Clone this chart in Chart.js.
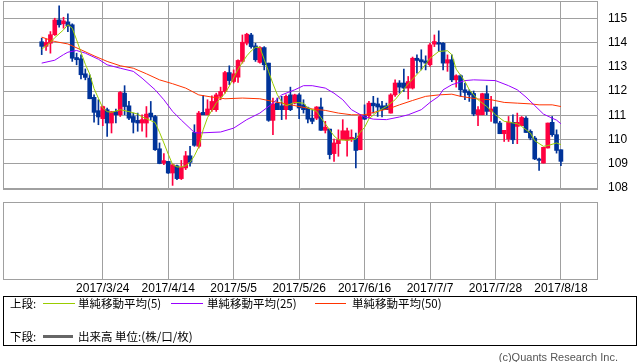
<!DOCTYPE html>
<html lang="ja">
<head>
<meta charset="utf-8">
<title>USD/JPY 日足</title>
<script src="https://cdn.jsdelivr.net/npm/chart.js@4"></script>
<style>
  body { margin:0; background:#fff; width:638px; height:362px; position:relative; overflow:hidden; font-family:"Noto Sans CJK JP", sans-serif; }
  canvas { position:absolute; left:0; }
  #upper { top:0; }
  #lower { top:198px; }
  #legendBox { position:absolute; left:3px; top:296px; width:632px; height:48px; border:1px solid #000; }
  .txt { position:absolute; font-size:11.5px; line-height:14px; height:14px; color:#000; white-space:nowrap; }
  .swatch { position:absolute; display:block; height:1px; }
  #copy { position:absolute; right:20px; top:350px; font-size:11px; line-height:14px; color:#555; font-family:"Liberation Sans", sans-serif; }
</style>
</head>
<body>
<canvas id="upper" width="638" height="200"></canvas>
<canvas id="lower" width="638" height="100"></canvas>

<div id="legendBox"></div>
<span class="txt" style="left:10px;top:296px">上段:</span>
<div class="swatch" style="left:43px;top:303px;width:32px;background:#99cc00"></div>
<span class="txt" style="left:78px;top:296px">単純移動平均(5)</span>
<div class="swatch" style="left:171px;top:303px;width:32px;background:#9900ff"></div>
<span class="txt" style="left:207px;top:296px">単純移動平均(25)</span>
<div class="swatch" style="left:315px;top:303px;width:31px;background:#ff3300"></div>
<span class="txt" style="left:352px;top:296px">単純移動平均(50)</span>
<span class="txt" style="left:10px;top:329px">下段:</span>
<div class="swatch" style="left:43px;top:335px;width:30px;height:3px;background:#666"></div>
<span class="txt" style="left:78px;top:329px">出来高 単位:(株/口/枚)</span>
<div id="copy">(c)Quants Research Inc.</div>

<script>
// daily candles, index 0 = 2017/3/6 ... index 119 = 2017/8/18 (weekdays)
const open = [
  114.03,113.84,113.97,114.32,114.93,114.77,114.85,114.73,113.38,113.33,
  112.71,112.53,111.74,111.19,110.86,111.23,110.68,111.15,111.02,111.91,
  111.39,110.95,110.79,110.68,110.68,111.09,110.95,109.62,109.03,109.10,
  108.62,108.92,108.39,108.83,109.33,110.29,109.72,111.12,111.02,111.23,
  111.23,111.78,111.98,112.76,112.39,112.57,113.22,113.97,114.31,113.86,
  113.18,113.79,113.15,110.79,111.50,111.39,111.23,111.84,111.50,111.84,
  111.43,111.30,110.88,110.88,111.34,110.38,110.43,109.42,109.83,109.99,
  109.97,109.99,110.06,109.58,110.98,110.98,111.50,111.47,111.39,111.39,
  111.09,111.84,112.33,112.33,112.12,112.12,113.35,113.29,113.24,113.08,
  113.93,114.00,113.97,113.15,113.29,112.46,112.63,112.05,111.98,111.90,
  111.02,111.02,111.89,111.16,111.34,110.68,110.24,110.02,110.71,110.54,
  110.57,110.88,110.34,110.06,109.20,109.03,109.65,110.71,110.20,109.58
];
const high = [
  114.18,114.14,114.45,115.00,115.51,115.04,115.18,114.77,113.56,113.49,
  112.91,112.67,111.84,111.64,111.38,111.30,111.15,111.26,111.98,112.22,
  111.57,111.09,111.09,111.02,111.36,111.57,111.00,109.86,109.42,109.10,
  108.99,108.95,109.14,109.51,109.72,110.61,111.16,111.82,111.64,111.80,
  111.91,112.16,112.81,113.04,112.87,113.29,114.31,114.38,114.38,113.97,
  113.83,113.83,113.15,111.71,111.71,111.78,111.84,112.16,111.87,111.89,
  111.64,111.34,111.23,111.36,111.71,110.75,110.43,110.02,110.40,110.82,
  110.47,110.40,110.27,111.02,111.43,111.57,111.78,111.71,111.57,111.50,
  111.89,112.46,112.43,112.90,112.60,113.40,113.49,113.70,113.45,113.97,
  114.31,114.48,114.00,113.49,113.49,112.67,112.67,112.33,112.05,112.00,
  111.36,111.91,112.22,111.78,111.34,110.75,110.38,110.95,111.02,111.09,
  110.95,110.95,110.40,110.13,109.24,109.68,110.68,110.95,110.40,109.58
];
const low = [
  113.50,113.67,113.56,114.29,114.63,114.59,114.45,113.22,113.08,112.50,
  112.46,111.68,110.72,110.61,110.57,110.13,110.27,110.68,110.95,111.02,
  110.82,110.27,110.34,110.34,110.10,110.82,109.55,109.00,108.96,108.60,
  108.11,108.35,108.35,108.76,108.90,109.72,109.65,111.02,111.02,111.16,
  111.16,111.64,111.91,112.26,112.33,112.35,113.15,113.90,113.77,113.22,
  113.15,112.87,110.75,110.20,111.23,110.82,110.84,111.19,111.47,110.86,
  111.09,110.68,110.65,110.82,110.38,110.27,109.20,109.10,109.31,109.99,
  109.31,109.92,108.83,109.58,110.82,110.88,111.09,110.95,110.93,111.23,
  111.09,111.78,111.91,111.98,111.67,112.08,112.74,112.87,112.87,113.01,
  113.83,113.63,112.87,112.81,112.39,112.16,111.78,111.64,111.57,110.98,
  110.57,111.02,111.02,110.75,110.68,110.24,109.92,109.92,109.83,109.83,
  110.57,110.29,109.99,109.17,108.73,109.03,109.65,110.13,109.44,108.92
];
const close = [
  113.84,114.00,114.32,114.93,114.73,114.89,114.68,113.35,113.29,112.67,
  112.56,111.68,111.12,110.93,111.36,110.68,111.15,111.02,111.94,111.36,
  110.88,110.71,110.68,110.82,111.05,110.93,109.58,109.01,109.13,108.62,
  108.96,108.39,108.85,109.33,109.06,109.76,111.09,111.02,111.26,111.57,
  111.84,111.98,112.76,112.43,112.71,113.26,114.01,114.34,113.83,113.29,
  113.79,113.08,110.79,111.47,111.23,111.23,111.78,111.23,111.84,111.30,
  111.23,110.84,110.75,111.34,110.38,110.51,109.38,109.86,109.99,110.36,
  110.36,110.09,109.55,110.95,110.84,111.50,111.39,111.34,111.23,111.23,
  111.84,112.33,112.16,112.12,112.39,113.35,113.26,113.20,113.15,113.90,
  114.04,113.93,113.15,113.29,112.46,112.63,112.05,111.94,111.84,111.05,
  111.23,111.89,111.16,111.26,110.68,110.24,110.38,110.72,109.99,110.71,
  110.91,110.29,110.06,109.20,109.14,109.68,110.68,110.20,109.55,109.10
];

// moving averages: [day index, value]
const ma5 = [
  [0,113.72],[2,114.0],[3,114.2],[5,114.52],[6,114.73],[7,114.59],[8,114.11],[9,113.6],
  [10,113.1],[11,112.7],[12,112.1],[13,111.7],[14,111.3],[15,111.15],[16,111.12],[18,111.23],
  [20,111.15],[22,111.05],[23,110.93],[24,110.86],[25,110.78],[26,110.7],[27,110.3],[28,109.86],
  [29,109.4],[30,108.97],[31,108.87],[32,108.87],[33,108.92],[34,109.06],[35,109.33],[36,109.7],
  [37,110.4],[38,110.9],[39,111.2],[40,111.5],[42,111.9],[43,112.2],[45,112.9],[47,113.45],
  [48,113.65],[49,113.8],[50,113.8],[51,113.3],[52,112.8],[53,112.3],[54,111.85],[55,111.55],
  [56,111.39],[58,111.53],[60,111.5],[61,111.3],[63,111.16],[64,110.9],[66,110.4],[67,110.15],
  [68,109.99],[70,109.97],[72,110.02],[73,110.3],[74,110.5],[75,110.85],[77,111.16],[79,111.36],
  [81,111.64],[84,112.3],[87,112.87],[89,113.35],[91,113.63],[93,113.66],[94,113.5],[95,112.9],
  [97,112.4],[98,112.05],[100,111.64],[102,111.36],[104,111.02],[106,110.75],[107,110.72],[109,110.65],
  [110,110.54],[112,110.27],[113,109.95],[115,109.72],[116,109.75],[118,109.86],[119,109.79]
];
const ma25 = [
  [0,113.15],[3,113.27],[5,113.5],[6,113.6],[8,113.67],[10,113.56],[13,113.31],[15,113.08],
  [18,112.94],[21,112.81],[23,112.53],[26,112.05],[28,111.64],[30,111.16],[32,110.8],[35,110.29],
  [36,110.27],[41,110.31],[44,110.47],[47,110.82],[50,111.09],[53,111.5],[55,111.84],[58,112.05],
  [60,112.22],[62,112.22],[65,112.12],[67,111.91],[69,111.64],[71,111.23],[74,110.93],[76,110.84],
  [79,110.82],[82,110.93],[84,111.02],[87,111.23],[89,111.53],[91,111.78],[92,112.05],[94,112.26],
  [97,112.43],[99,112.46],[104,112.43],[107,112.22],[109,112.05],[111,111.75],[113,111.4],[115,111.05],
  [117,110.88],[118,110.8],[119,110.65]
];
const ma50 = [
  [0,114.22],[3,114.04],[6,113.94],[9,113.7],[12,113.45],[15,113.22],[18,113.04],[21,112.94],
  [24,112.71],[27,112.46],[30,112.3],[33,112.12],[36,111.84],[39,111.75],[41,111.71],[42,111.68],
  [46,111.71],[50,111.68],[53,111.57],[56,111.47],[59,111.36],[62,111.26],[65,111.2],[68,111.09],
  [71,111.02],[74,111.02],[77,111.16],[80,111.3],[82,111.43],[85,111.61],[88,111.78],[91,111.84],
  [94,111.87],[96,111.78],[100,111.67],[103,111.64],[106,111.53],[109,111.5],[112,111.47],[114,111.43],
  [117,111.43],[119,111.36]
];

const tickIdx = [14, 29, 44, 59, 74, 89, 104, 119];
const tickLabels = ['2017/3/24','2017/4/14','2017/5/5','2017/5/26','2017/6/16','2017/7/7','2017/7/28','2017/8/18'];
const priceTicks = [108, 109, 110, 111, 112, 113, 114, 115];

const UP = '#ff0040', DOWN = '#003399', GRID = '#a0a0a0';
const X_MIN = -8.87, X_MAX = 127.5;

const upColor = open.map((o, i) => close[i] >= o ? UP : DOWN);

// frame round the plot area
const frame = {
  id: 'frame',
  afterDraw(chart) {
    const { ctx, chartArea: a } = chart;
    ctx.save();
    ctx.strokeStyle = GRID;
    ctx.lineWidth = 1;
    ctx.strokeRect(Math.round(a.left) + 0.5, Math.round(a.top) + 0.5,
                   Math.round(a.width) - 1, Math.round(a.height) - 1);
    ctx.restore();
  }
};

const xScale = (showLabels) => ({
  type: 'linear',
  min: X_MIN,
  max: X_MAX,
  offset: false,
  afterBuildTicks: s => { s.ticks = tickIdx.map(v => ({ value: v })); },
  afterFit: s => {
    s.paddingLeft = 0; s.paddingRight = 0;
    if (showLabels) s.height = 16;
  },
  border: { display: false },
  grid: { color: GRID, drawTicks: false, offset: false },
  ticks: {
    display: showLabels,
    autoSkip: false,
    maxRotation: 0,
    padding: 1,
    color: '#000',
    font: { family: 'Liberation Sans', size: 12 },
    callback: v => tickLabels[tickIdx.indexOf(v)]
  }
});

new Chart(document.getElementById('upper'), {
  type: 'bar',
  data: {
    datasets: [
      { type: 'line', label: '単純移動平均(5)', data: ma5.map(p => ({ x: p[0], y: p[1] })),
        borderColor: '#99cc00', borderWidth: 1, pointRadius: 0, tension: 0 },
      { type: 'line', label: '単純移動平均(25)', data: ma25.map(p => ({ x: p[0], y: p[1] })),
        borderColor: '#9900ff', borderWidth: 1, pointRadius: 0, tension: 0 },
      { type: 'line', label: '単純移動平均(50)', data: ma50.map(p => ({ x: p[0], y: p[1] })),
        borderColor: '#ff3300', borderWidth: 1, pointRadius: 0, tension: 0 },
      { label: 'body', data: open.map((o, i) => ({ x: i, y: [o, close[i]] })),
        backgroundColor: upColor, barThickness: 4, minBarLength: 1, grouped: false },
      { label: 'wick', data: low.map((l, i) => ({ x: i, y: [l, high[i]] })),
        backgroundColor: upColor, barThickness: 1, grouped: false }
    ]
  },
  options: {
    responsive: false,
    animation: false,
    events: [],
    layout: { padding: { left: 3, top: 1, right: 0, bottom: 10 } },
    plugins: { legend: { display: false }, tooltip: { enabled: false } },
    scales: {
      x: xScale(false),
      y: {
        position: 'right',
        min: 107.92,
        max: 115.71,
        afterBuildTicks: s => { s.ticks = priceTicks.map(v => ({ value: v })); },
        afterFit: s => { s.width = 40; s.paddingTop = 0; s.paddingBottom = 0; },
        border: { display: false },
        grid: { color: GRID, drawTicks: false },
        ticks: { padding: 10, color: '#000', font: { family: 'Liberation Sans', size: 12 } }
      }
    }
  },
  plugins: [frame]
});

// lower panel (volume) is empty
new Chart(document.getElementById('lower'), {
  type: 'bar',
  data: { datasets: [] },
  options: {
    responsive: false,
    animation: false,
    events: [],
    layout: { padding: { left: 3, top: 4, right: 40, bottom: 2 } },
    plugins: { legend: { display: false }, tooltip: { enabled: false } },
    scales: {
      x: xScale(true),
      y: { display: false, min: 0, max: 1 }
    }
  },
  plugins: [frame]
});
</script>
</body>
</html>
